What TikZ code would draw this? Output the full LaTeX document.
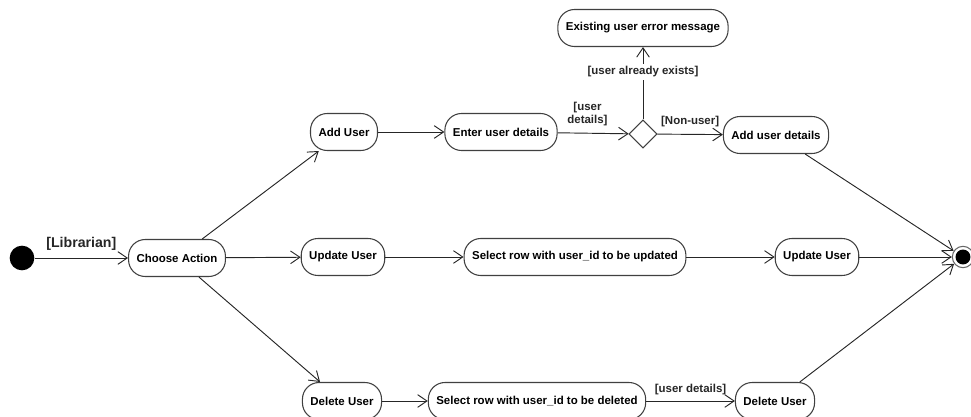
\documentclass[tikz,border=0pt]{standalone}
\usepackage{fontspec}
\setmainfont{Liberation Sans}
\usetikzlibrary{shapes, arrows.meta}

\begin{document}
\begin{tikzpicture}[x=0.75pt, y=-0.75pt,
  act/.style={draw=black!75, line width=0.8pt, rounded corners=12.5pt, minimum height=27.75pt, inner xsep=6pt, font=\bfseries\fontsize{8.6}{10}\selectfont},
  guard/.style={font=\bfseries\fontsize{8.6}{10}\selectfont, inner sep=2pt},
  choice/.style={diamond, draw=black!75, line width=0.8pt, minimum size=21pt, inner sep=0pt},
  initial/.style={circle, fill=black, minimum size=18.5pt, inner sep=0pt},
  final/.style={circle, draw=black!60, line width=0.8pt, minimum size=16pt, inner sep=0pt,
    path picture={\fill[black] (path picture bounding box.center) circle (5.6pt);}},
  flow/.style={-{Straight Barb[length=7pt, width=9.5pt]}, line width=0.7pt, black!85}]
\useasboundingbox (0,0) rectangle (971,417);

\node[initial] (start) at (22,258) {};
\node[act] (choose) at (177,258) {Choose Action};

\node[act] (add) at (344,132) {Add User};
\node[act] (enter) at (501,132) {Enter user details};
\node[choice] (check) at (643,134) {};
\node[act] (exists) at (643,28) {Existing user error message};
\node[act] (addd) at (776,135) {Add user details};

\node[act] (upd) at (343,257) {Update User};
\node[act] (selu) at (575,257) {Select row with user\_id to be updated};
\node[act] (upd2) at (817,257) {Update User};

\node[act] (del) at (342,401) {Delete User};
\node[act] (seld) at (537,401) {Select row with user\_id to be deleted};
\node[act] (del2) at (775,401) {Delete User};

\node[final] (end) at (963,257) {};

\draw[flow] (start) edge node[above=3pt, guard, font=\bfseries\fontsize{10.6}{12}\selectfont] {[Librarian]} (choose);
\draw[flow] (choose) edge (add) edge (upd) edge (del);
\draw[flow] (add) edge (enter)
  (enter) edge node[guard, above=3pt, pos=0.42, align=center] {[user\\details]} (check)
  (check) edge node[guard, fill=white, pos=0.66] {[user already exists]} (exists)
  (check) edge node[guard, above=3pt] {[Non-user]} (addd);
\draw[flow] (upd) edge (selu) (selu) edge (upd2);
\draw[flow] (del) edge (seld) (seld) edge node[guard, above=2pt] {[user details]} (del2);
\draw[flow] (addd) edge (end) (upd2) edge (end) (del2) edge (end);
\end{tikzpicture}
\end{document}
